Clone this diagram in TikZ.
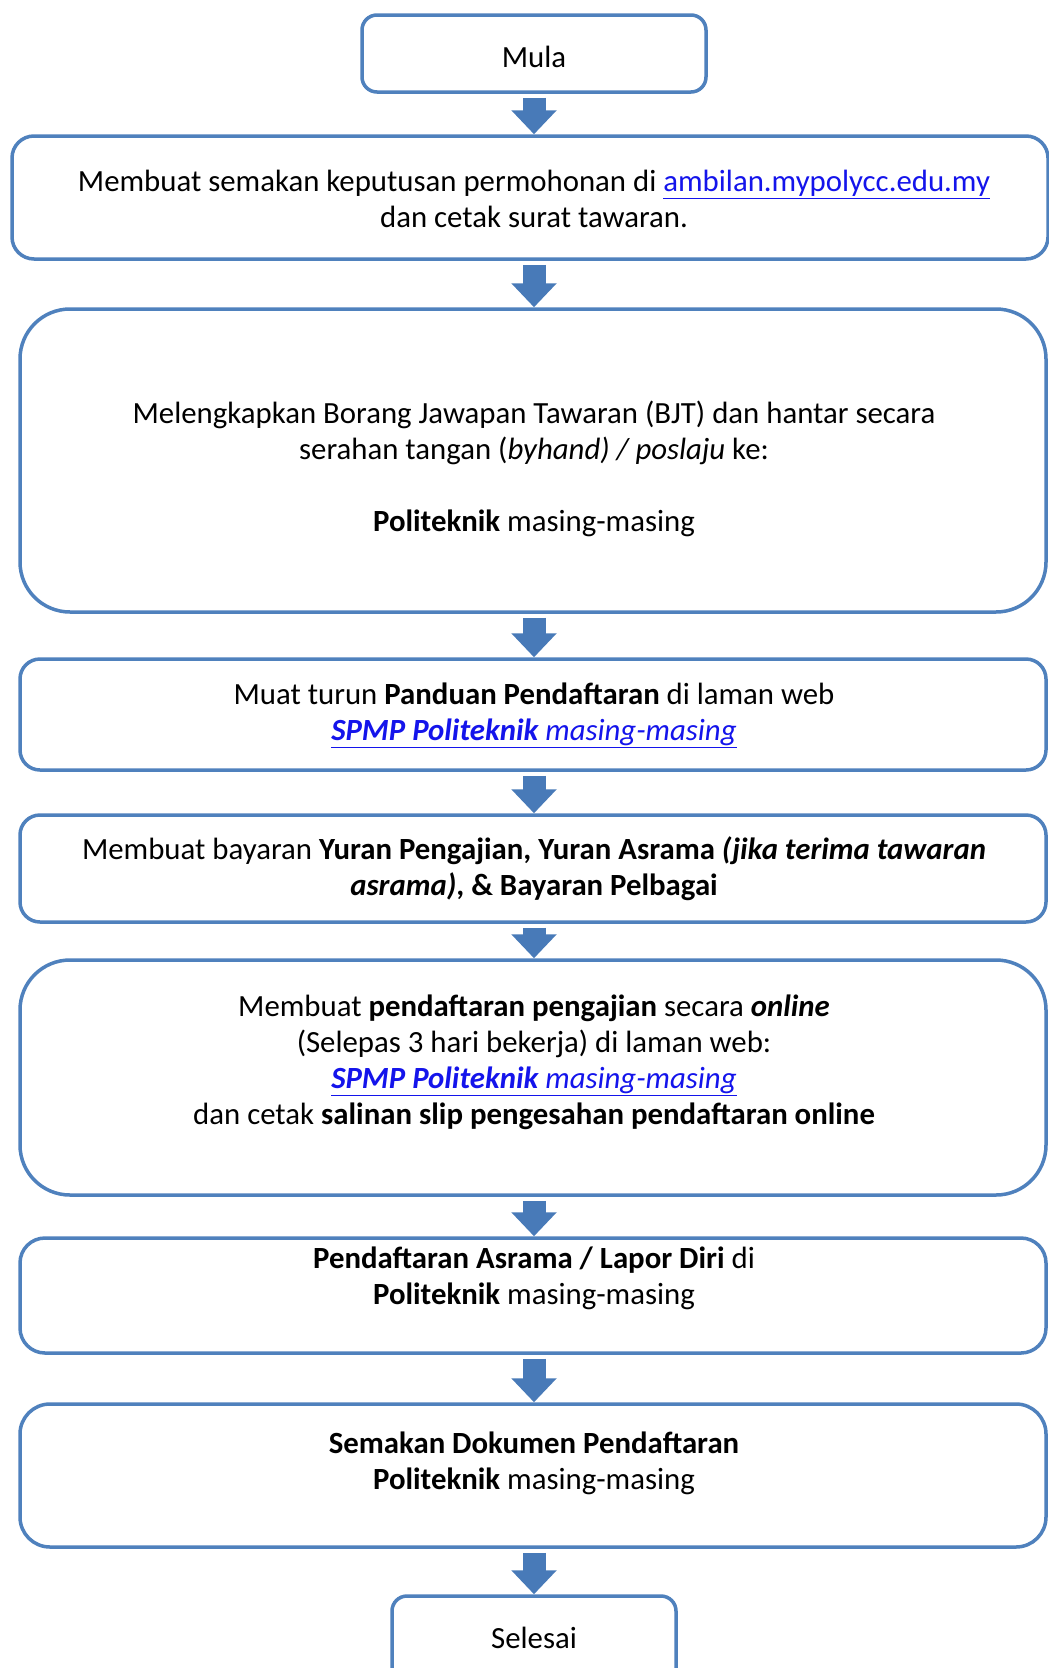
\documentclass[tikz,border=0pt]{standalone}
\usepackage{fontspec}
\setmainfont{Carlito}
\usetikzlibrary{arrows.meta}

\definecolor{boxblue}{RGB}{79,129,189}
\definecolor{arrowblue}{RGB}{72,122,184}
\definecolor{linkblue}{RGB}{20,20,235}
\newcommand{\weblink}[1]{\textcolor{linkblue}{\underline{#1}}}

\begin{document}
\begin{tikzpicture}
  [x=1pt,y=-1pt,
   box/.style={draw=boxblue,line width=3.5pt,fill=white,inner sep=0pt,minimum width=1026pt},
   txt/.style={align=center,font=\fontsize{30.8}{36}\selectfont,inner sep=0pt},
   flow/.style={arrowblue,line width=23pt,-{Triangle[length=24pt,width=44pt]},shorten <=4pt}]
  \clip (0,0) rectangle (1049,1668);
  \fill[white] (0,0) rectangle (1049,1668);

  % boxes
  \node[box,rounded corners=15pt,minimum width=344pt,minimum height=77pt] (mula) at (534,53.5) {};
  \node[box,rounded corners=22pt,minimum width=1036pt,minimum height=123pt] (b1) at (530,197.5) {};
  \node[box,rounded corners=50pt,minimum height=303pt] (b2) at (533,460.5) {};
  \node[box,rounded corners=20pt,minimum height=111pt] (b3) at (533,714.5) {};
  \node[box,rounded corners=20pt,minimum height=107pt] (b4) at (533,868.5) {};
  \node[box,rounded corners=50pt,minimum height=235pt] (b5) at (533,1077.5) {};
  \node[box,rounded corners=25pt,minimum height=115pt] (b6) at (533,1295.5) {};
  \node[box,rounded corners=30pt,minimum height=143pt] (b7) at (533,1475.5) {};
  \node[box,rounded corners=15pt,minimum width=284pt,minimum height=94pt] (selesai) at (534,1643) {};

  % texts
  \node[txt] (tmula) at (534,57) {Mula};
  \node[txt] (t1) at (534,199) {Membuat semakan keputusan permohonan di \weblink{ambilan.mypolycc.edu.my}\\
    dan cetak surat tawaran.};
  \node[txt] (t2) at (534,469) {Melengkapkan Borang Jawapan Tawaran (BJT) dan hantar secara\\
    serahan tangan (\textit{byhand) / poslaju} ke:\\[36pt]
    \textbf{Politeknik} masing-masing};
  \node[txt] (t3) at (534,715) {Muat turun \textbf{Panduan Pendaftaran} di laman web\\
    \weblink{\textit{\textbf{SPMP Politeknik} masing-masing}}};
  \node[txt] (t4) at (534,868.5) {Membuat bayaran \textbf{Yuran Pengajian, Yuran Asrama \textit{(jika terima tawaran}}\\
    \textbf{\textit{asrama)}, \& Bayaran Pelbagai}};
  \node[txt] (t5) at (534,1062.5) {Membuat \textbf{pendaftaran pengajian} secara \textbf{\textit{online}}\\
    (Selepas 3 hari bekerja) di laman web:\\
    \weblink{\textit{\textbf{SPMP Politeknik} masing-masing}}\\
    dan cetak \textbf{salinan slip pengesahan pendaftaran online}};
  \node[txt] (t6) at (534,1278.5) {\textbf{Pendaftaran Asrama / Lapor Diri} di\\
    \textbf{Politeknik} masing-masing};
  \node[txt] (t7) at (534,1463.5) {\textbf{Semakan Dokumen Pendaftaran}\\
    \textbf{Politeknik} masing-masing};
  \node[txt] (tselesai) at (534,1638) {Selesai};

  % arrows
  \foreach \from/\to in {mula/b1,b1/b2,b2/b3,b3/b4,b4/b5,b5/b6,b6/b7,b7/selesai}
    \draw[flow] (\from.south -| selesai) -- (\to.north -| selesai);
\end{tikzpicture}
\end{document}
